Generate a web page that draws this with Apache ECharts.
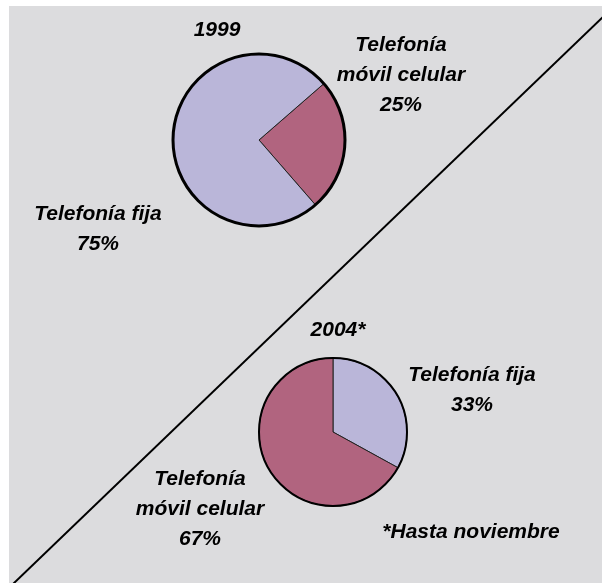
<!DOCTYPE html>
<html>
<head>
<meta charset="utf-8">
<script src="https://cdn.jsdelivr.net/npm/echarts@6/dist/echarts.min.js"></script>
<style>
  html, body { margin: 0; padding: 0; background: #fff; }
  #chart { width: 602px; height: 583px; }
</style>
</head>
<body>
<div id="chart"></div>
<script>
// datos
var names1999 = ['Telefonía\nmóvil celular', 'Telefonía fija']
var values1999 = [25, 75]
var names2004 = ['Telefonía fija', 'Telefonía\nmóvil celular']
var values2004 = [33, 67]

var colorFija = '#bab6d9'
var colorMovil = '#b1647f'
var font = '"Liberation Sans", Arial, sans-serif'

var chart = echarts.init(document.getElementById('chart'))

function pieData(names, values) {
  return names.map(function (n, i) {
    return {
      name: n,
      value: values[i],
      itemStyle: { color: n.indexOf('fija') >= 0 ? colorFija : colorMovil }
    }
  })
}

// posiciones de las etiquetas
var pos1999 = [[401, 75], [98, 229]]
var pos2004 = [[472, 390], [200, 509]]

function pieSeries(names, values, center, radius, startAngle, labelPos) {
  return {
    type: 'pie',
    center: center,
    radius: radius,
    startAngle: startAngle,
    clockwise: true,
    percentPrecision: 0,
    avoidLabelOverlap: false,
    animation: false,
    data: pieData(names, values),
    itemStyle: { borderColor: '#222', borderWidth: 1 },
    label: {
      position: 'outside',
      formatter: '{b}\n{d}%',
      fontFamily: font,
      fontSize: 21,
      fontWeight: 'bold',
      fontStyle: 'italic',
      color: '#000',
      lineHeight: 30,
      align: 'center'
    },
    labelLine: { show: false },
    labelLayout: function (p) {
      return { x: labelPos[p.dataIndex][0], y: labelPos[p.dataIndex][1], align: 'center', verticalAlign: 'middle' }
    },
    emphasis: { disabled: true }
  }
}

// contorno del círculo
function outline(center, radius, width) {
  return {
    type: 'pie',
    center: center,
    radius: radius,
    silent: true,
    animation: false,
    z: 3,
    label: { show: false },
    labelLine: { show: false },
    data: [{ value: 1, itemStyle: { color: 'rgba(0,0,0,0)', borderColor: '#000', borderWidth: width } }]
  }
}

var textStyle = { fontFamily: font, fontSize: 21, fontWeight: 'bold', fontStyle: 'italic', fill: '#000', textAlign: 'center', textVerticalAlign: 'middle' }

chart.setOption({
  graphic: [
    { type: 'rect', z: -10, shape: { x: 9, y: 6, width: 600, height: 580 }, style: { fill: '#dcdcde' } },
    { type: 'line', z: -5, shape: { x1: 13, y1: 584, x2: 603, y2: 17 }, style: { stroke: '#000', lineWidth: 2 } },
    { type: 'text', x: 217, y: 30, style: Object.assign({ text: '1999' }, textStyle) },
    { type: 'text', x: 338, y: 330, style: Object.assign({ text: '2004*' }, textStyle) },
    { type: 'text', x: 471, y: 532, style: Object.assign({ text: '*Hasta noviembre' }, textStyle) }
  ],
  series: [
    pieSeries(names1999, values1999, [259, 140], 86, 41, pos1999),
    outline([259, 140], 86, 3),
    pieSeries(names2004, values2004, [333, 432], 74, 90, pos2004),
    outline([333, 432], 74, 2)
  ]
})
</script>
</body>
</html>
